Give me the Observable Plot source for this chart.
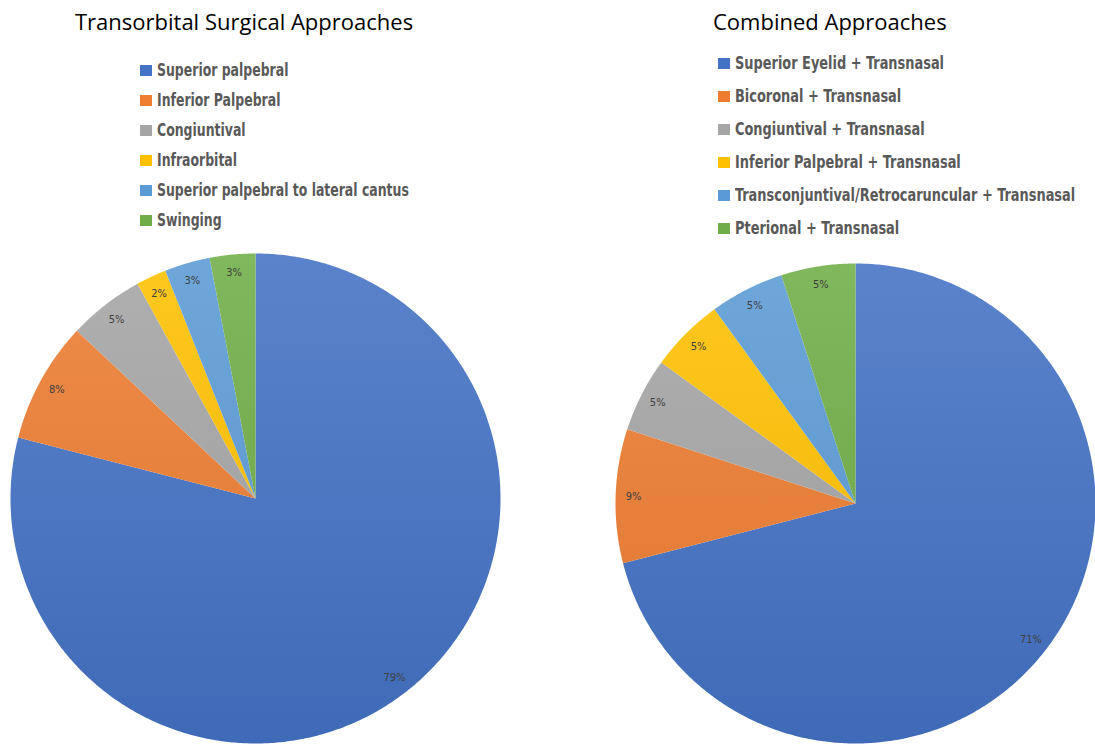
<!DOCTYPE html>
<html><head><meta charset="utf-8">
<script src="https://cdn.jsdelivr.net/npm/d3@7"></script>
<script src="https://cdn.jsdelivr.net/npm/@observablehq/plot@0.6"></script>
<style>
body{margin:0;background:#fff;}
#wrap{position:relative;width:1095px;height:745px;overflow:hidden;background:#fff;}
.title{position:absolute;font-family:"Open Sans",sans-serif;font-size:22px;color:#000;white-space:nowrap;line-height:1;}
.legend{position:absolute;font-family:"DejaVu Sans Condensed",sans-serif;font-weight:bold;color:#595959;font-size:17px;}
.legend .row{position:absolute;left:0;white-space:nowrap;display:flex;align-items:center;height:20px;}
.sw{width:12px;height:11px;margin-right:5px;flex:none;}
.tx{display:inline-block;transform-origin:0 50%;}
.pie{position:absolute;top:0;}
</style></head><body><div id="wrap"></div>
<script>
// ---- data ----
const leftTitle = "Transorbital Surgical Approaches";
const leftCategories = ["Superior palpebral","Inferior Palpebral","Congiuntival","Infraorbital","Superior palpebral to lateral cantus","Swinging"];
const leftValues = [79, 8, 5, 2, 3, 3];
const rightTitle = "Combined Approaches";
const rightCategories = ["Superior Eyelid + Transnasal","Bicoronal + Transnasal","Congiuntival + Transnasal","Inferior Palpebral + Transnasal","Transconjuntival/Retrocaruncular + Transnasal","Pterional + Transnasal"];
const rightValues = [71, 9, 5, 5, 5, 5];
const sliceColors = ["#4472C4","#ED7D31","#A5A5A5","#FFC000","#5B9BD5","#70AD47"];

const wrap = document.getElementById("wrap");

function pieChart(id, cats, vals, L) {
  const total = d3.sum(vals);
  const arcs = d3.pie().sort(null).value(d => d)(vals);
  const marks = [];
  marks.push((index, scales) => {
    const defs = d3.create("svg:defs");
    cats.forEach((c, i) => {
      const col = sliceColors[i];
      const g = defs.append("linearGradient").attr("id", `${id}-g${i}`)
        .attr("gradientUnits", "userSpaceOnUse")
        .attr("x1", 0).attr("x2", 0).attr("y1", scales.y(1)).attr("y2", scales.y(-1));
      g.append("stop").attr("offset", 0).attr("stop-color", d3.interpolateRgb(col, "#fff")(0.12));
      g.append("stop").attr("offset", 1).attr("stop-color", d3.color(col).darker(0.2).formatHex());
    });
    return defs.node();
  });
  arcs.forEach((a, i) => {
    const pts = [{x: 0, y: 0}];
    const n = Math.max(2, Math.ceil((a.endAngle - a.startAngle) / (Math.PI / 360)));
    for (let k = 0; k <= n; k++) {
      const t = a.startAngle + (a.endAngle - a.startAngle) * k / n;
      pts.push({x: Math.sin(t), y: Math.cos(t)});
    }
    marks.push(Plot.line(pts, {x: "x", y: "y", curve: "linear-closed", fill: `url(#${id}-g${i})`, stroke: "none"}));
  });
  const labels = arcs.map(a => {
    const m = (a.startAngle + a.endAngle) / 2;
    return {x: L.lr * Math.sin(m), y: L.lr * Math.cos(m), t: Math.round(a.data / total * 100) + "%"};
  });
  marks.push(Plot.text(labels, {x: "x", y: "y", text: "t", fill: "#404040", fontSize: 11,
    fontFamily: "'DejaVu Sans Condensed', sans-serif"}));
  const svg = Plot.plot({
    width: L.w, height: 745, margin: 0,
    x: {domain: [-1, 1], range: [L.cx - L.r, L.cx + L.r], axis: null},
    y: {domain: [-1, 1], range: [L.cy + L.r, L.cy - L.r], axis: null},
    marks
  });
  svg.classList.add("pie");
  svg.style.left = L.left + "px";
  svg.style.background = "transparent";
  return svg;
}

function legend(cats, L) {
  const div = document.createElement("div");
  div.className = "legend";
  div.style.left = L.lx + "px";
  div.style.top = "0px";
  cats.forEach((c, i) => {
    const row = document.createElement("div");
    row.className = "row";
    row.style.top = (L.ly + i * L.ls - 10) + "px";
    const sw = document.createElement("span");
    sw.className = "sw";
    sw.style.background = sliceColors[i];
    const tx = document.createElement("span");
    tx.className = "tx";
    tx.style.transform = `scaleX(${L.sx})`;
    tx.textContent = c;
    row.appendChild(sw); row.appendChild(tx);
    div.appendChild(row);
  });
  return div;
}

function title(t, x, y) {
  const d = document.createElement("div");
  d.className = "title";
  d.textContent = t;
  d.style.left = x + "px";
  d.style.top = y + "px";
  return d;
}

wrap.appendChild(pieChart("L", leftCategories, leftValues, {w: 547, left: 0, cx: 255, cy: 498, r: 245, lr: 0.925}));
wrap.appendChild(pieChart("R", rightCategories, rightValues, {w: 548, left: 547, cx: 308, cy: 503, r: 240, lr: 0.925}));
wrap.appendChild(title(leftTitle, 75, 10));
wrap.appendChild(title(rightTitle, 713, 10));
wrap.appendChild(legend(leftCategories, {lx: 140, ly: 70, ls: 30, sx: 0.815}));
wrap.appendChild(legend(rightCategories, {lx: 718, ly: 63, ls: 33, sx: 0.845}));
</script></body></html>
